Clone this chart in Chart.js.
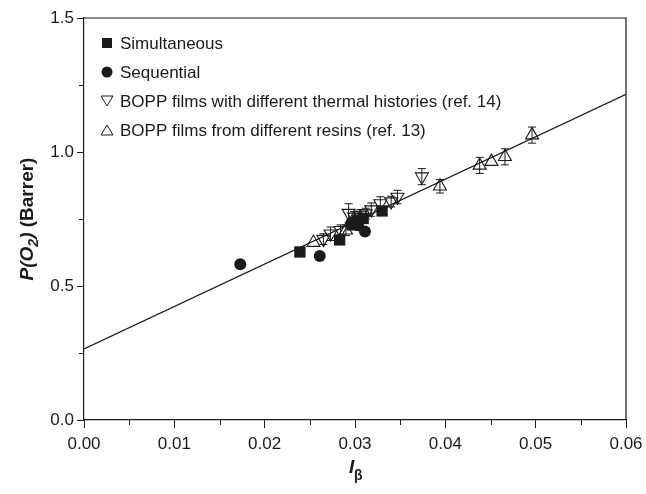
<!DOCTYPE html>
<html>
<head>
<meta charset="utf-8">
<script src="https://cdn.jsdelivr.net/npm/chart.js@4/dist/chart.umd.min.js"></script>
<style>
  html, body { margin: 0; padding: 0; background: #fff; }
  #wrap { width: 646px; height: 494px; position: relative; }
</style>
</head>
<body>
<div id="wrap"><canvas id="chart" width="646" height="494"></canvas></div>
<script>
// values
const simX = [0.0239, 0.0283, 0.0297, 0.0303, 0.0309, 0.0330];
const simY = [0.627, 0.672, 0.728, 0.742, 0.752, 0.780];

const seqX = [0.0173, 0.0261, 0.0296, 0.0303, 0.0311];
const seqY = [0.581, 0.612, 0.735, 0.727, 0.703];

const thermX = [0.0265, 0.0273, 0.0284, 0.0293, 0.0299, 0.0306, 0.0312, 0.0318, 0.0328, 0.0340, 0.0347, 0.0374];
const thermY = [0.675, 0.695, 0.708, 0.772, 0.758, 0.765, 0.770, 0.785, 0.808, 0.815, 0.832, 0.908];
const thermErr = [0.02, 0.025, 0.02, 0.035, 0.02, 0.02, 0.02, 0.025, 0.025, 0.02, 0.025, 0.03];

const resinX = [0.0254, 0.0290, 0.0300, 0.0306, 0.0394, 0.0438, 0.0451, 0.0466, 0.0496];
const resinY = [0.662, 0.708, 0.742, 0.752, 0.872, 0.950, 0.964, 0.982, 1.063];
const resinErr = [0.0, 0.02, 0.02, 0.02, 0.025, 0.03, 0.0, 0.03, 0.03];

const fitX = [0, 0.06];
const fitY = [0.265, 1.215];

const xTicks = ['0.00', '0.01', '0.02', '0.03', '0.04', '0.05', '0.06'];
const yTicks = ['0.0', '0.5', '1.0', '1.5'];

const legendLabels = [
  'Simultaneous',
  'Sequential',
  'BOPP films with different thermal histories (ref. 14)',
  'BOPP films from different resins (ref. 13)'
];

const pts = (xs, ys) => xs.map((x, i) => ({ x: x, y: ys[i] }));
const FONT = '"Liberation Sans", Arial, sans-serif';
const INK = '#1a1a1a';

const nearMultiple = (v, step) => Math.abs(v / step - Math.round(v / step)) < 1e-6;

const frame = {
  id: 'frame',
  afterDraw(chart) {
    const { ctx, chartArea: a } = chart;
    ctx.save();
    ctx.strokeStyle = INK;
    ctx.lineWidth = 1.2;
    ctx.beginPath();
    ctx.moveTo(a.left, a.top);
    ctx.lineTo(a.right, a.top);
    ctx.lineTo(a.right, a.bottom);
    ctx.stroke();
    // short minor ticks
    ctx.lineWidth = 1;
    chart.scales.x.ticks.forEach(t => {
      if (nearMultiple(t.value, 0.01)) return;
      const px = Math.round(chart.scales.x.getPixelForValue(t.value)) + 0.5;
      ctx.beginPath(); ctx.moveTo(px, a.bottom); ctx.lineTo(px, a.bottom + 5); ctx.stroke();
    });
    chart.scales.y.ticks.forEach(t => {
      if (nearMultiple(t.value, 0.5)) return;
      const py = Math.round(chart.scales.y.getPixelForValue(t.value)) + 0.5;
      ctx.beginPath(); ctx.moveTo(a.left, py); ctx.lineTo(a.left - 5, py); ctx.stroke();
    });
    ctx.restore();
  }
};

const errorBars = {
  id: 'errorBars',
  afterDatasetsDraw(chart) {
    const { ctx } = chart;
    const xs = chart.scales.x, ys = chart.scales.y;
    ctx.save();
    ctx.strokeStyle = INK;
    ctx.lineWidth = 1;
    chart.data.datasets.forEach(ds => {
      if (!ds.errors) return;
      ds.data.forEach((p, i) => {
        const e = ds.errors[i];
        if (!e) return;
        const px = xs.getPixelForValue(p.x);
        const y1 = ys.getPixelForValue(p.y + e);
        const y2 = ys.getPixelForValue(p.y - e);
        ctx.beginPath();
        ctx.moveTo(px, y1); ctx.lineTo(px, y2);
        ctx.moveTo(px - 4, y1); ctx.lineTo(px + 4, y1);
        ctx.moveTo(px - 4, y2); ctx.lineTo(px + 4, y2);
        ctx.stroke();
      });
    });
    ctx.restore();
  }
};

function marker(ctx, kind, x, y) {
  ctx.beginPath();
  if (kind === 'square') {
    ctx.rect(x - 5, y - 5, 10, 10);
    ctx.fill();
  } else if (kind === 'circle') {
    ctx.arc(x, y, 5.5, 0, Math.PI * 2);
    ctx.fill();
  } else if (kind === 'down') {
    ctx.moveTo(x - 6, y - 5); ctx.lineTo(x + 6, y - 5); ctx.lineTo(x, y + 5); ctx.closePath();
    ctx.stroke();
  } else {
    ctx.moveTo(x - 6, y + 5); ctx.lineTo(x + 6, y + 5); ctx.lineTo(x, y - 5); ctx.closePath();
    ctx.stroke();
  }
}

const legendBox = {
  id: 'legendBox',
  afterDraw(chart) {
    const { ctx, chartArea: a } = chart;
    const kinds = ['square', 'circle', 'down', 'up'];
    ctx.save();
    ctx.fillStyle = INK;
    ctx.strokeStyle = INK;
    ctx.lineWidth = 1;
    ctx.font = '17px ' + FONT;
    ctx.textBaseline = 'middle';
    legendLabels.forEach((t, i) => {
      const y = a.top + 25 + i * 29;
      marker(ctx, kinds[i], a.left + 23, y);
      ctx.fillText(t, a.left + 36, y + 1);
    });
    ctx.restore();
  }
};

const axisTitles = {
  id: 'axisTitles',
  afterDraw(chart) {
    const { ctx, chartArea: a } = chart;
    ctx.save();
    ctx.fillStyle = INK;
    ctx.textBaseline = 'alphabetic';
    // y title: P(O2) (Barrer)
    ctx.translate(33, (a.top + a.bottom) / 2);
    ctx.rotate(-Math.PI / 2);
    const big = 'italic bold 19px ' + FONT;
    const sub = 'italic bold 14px ' + FONT;
    const plain = 'bold 19px ' + FONT;
    const parts = [
      { t: 'P(O', f: big, dy: 0 },
      { t: '2', f: sub, dy: 5 },
      { t: ')', f: big, dy: 0 },
      { t: ' (Barrer)', f: plain, dy: 0 }
    ];
    let w = 0;
    parts.forEach(p => { ctx.font = p.f; w += ctx.measureText(p.t).width; });
    let x = -w / 2;
    parts.forEach(p => {
      ctx.font = p.f;
      ctx.fillText(p.t, x, p.dy);
      x += ctx.measureText(p.t).width;
    });
    ctx.restore();

    // x title: I beta
    ctx.save();
    ctx.fillStyle = INK;
    ctx.font = 'italic bold 19px ' + FONT;
    const cx = (a.left + a.right) / 2;
    ctx.fillText('I', cx - 6, 473);
    ctx.font = 'bold 14px ' + FONT;
    ctx.fillText('β', cx - 1, 480);
    ctx.restore();
  }
};

const majorOnly = step => ctx => nearMultiple(ctx.tick.value, step) ? INK : 'rgba(0,0,0,0)';

new Chart(document.getElementById('chart').getContext('2d'), {
  type: 'scatter',
  data: {
    datasets: [{
      label: legendLabels[0],
      data: pts(simX, simY),
      pointStyle: 'rect',
      pointRadius: 8,
      backgroundColor: INK,
      borderColor: INK,
      borderWidth: 0
    }, {
      label: legendLabels[1],
      data: pts(seqX, seqY),
      pointStyle: 'circle',
      pointRadius: 6,
      backgroundColor: INK,
      borderColor: INK,
      borderWidth: 0
    }, {
      label: legendLabels[2],
      data: pts(thermX, thermY),
      errors: thermErr,
      pointStyle: 'triangle',
      rotation: 180,
      pointRadius: 7.5,
      backgroundColor: 'rgba(0,0,0,0)',
      borderColor: INK,
      borderWidth: 1.1
    }, {
      label: legendLabels[3],
      data: pts(resinX, resinY),
      errors: resinErr,
      pointStyle: 'triangle',
      pointRadius: 7.5,
      backgroundColor: 'rgba(0,0,0,0)',
      borderColor: INK,
      borderWidth: 1.1
    }, {
      label: 'fit',
      data: pts(fitX, fitY),
      showLine: true,
      pointRadius: 0,
      borderColor: INK,
      borderWidth: 1.3
    }]
  },
  options: {
    responsive: false,
    animation: false,
    layout: { padding: { top: 18, right: 20, left: 0, bottom: 0 } },
    plugins: {
      legend: { display: false },
      tooltip: { enabled: false }
    },
    scales: {
      x: {
        type: 'linear',
        min: 0,
        max: 0.06,
        afterFit(scale) {
          scale.height = 74;
          scale.paddingLeft = 0;
          scale.paddingRight = 0;
        },
        border: { color: INK, width: 1.2 },
        grid: { drawOnChartArea: false, tickLength: 8, tickColor: majorOnly(0.01) },
        ticks: {
          stepSize: 0.005,
          color: INK,
          padding: 6,
          maxRotation: 0,
          font: { family: FONT, size: 17 },
          callback: v => nearMultiple(v, 0.01) ? xTicks[Math.round(v / 0.01)] : ''
        }
      },
      y: {
        type: 'linear',
        min: 0,
        max: 1.5,
        afterFit(scale) {
          scale.width = 84;
          scale.paddingTop = 0;
          scale.paddingBottom = 0;
        },
        border: { color: INK, width: 1.2 },
        grid: { drawOnChartArea: false, tickLength: 7, tickColor: majorOnly(0.5) },
        ticks: {
          stepSize: 0.25,
          color: INK,
          padding: 3,
          font: { family: FONT, size: 17 },
          callback: v => nearMultiple(v, 0.5) ? yTicks[Math.round(v / 0.5)] : ''
        }
      }
    }
  },
  plugins: [frame, errorBars, legendBox, axisTitles]
});
</script>
</body>
</html>
